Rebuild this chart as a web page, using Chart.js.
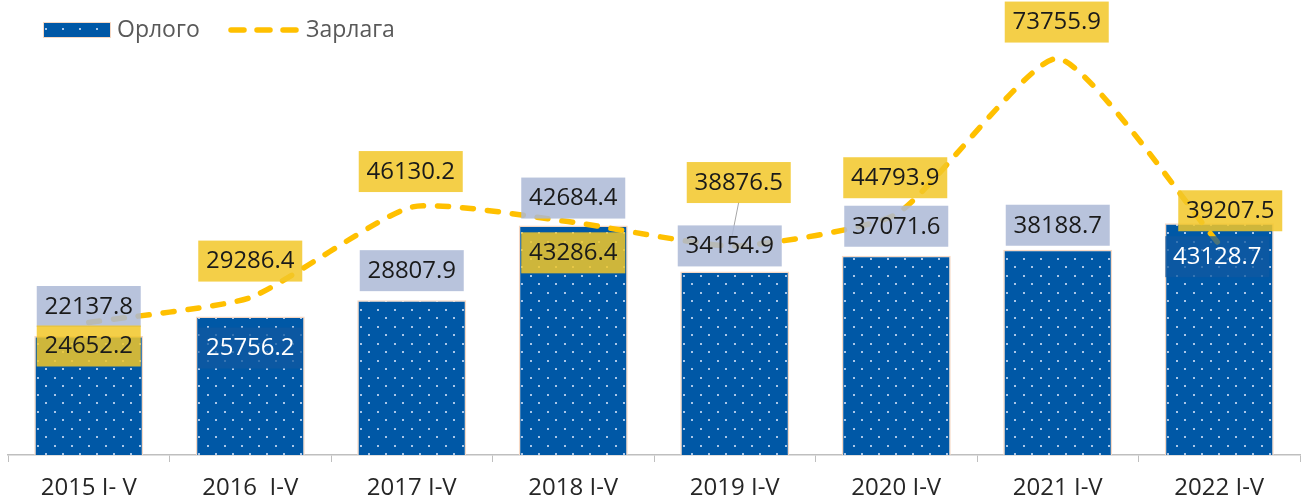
<!DOCTYPE html>
<html>
<head>
<meta charset="utf-8">
<script src="https://cdn.jsdelivr.net/npm/chart.js@4.4.1/dist/chart.umd.min.js"></script>
<style>
    html, body { margin: 0; padding: 0; background: #fff; }
    #wrap { width: 1304px; height: 502px; }
</style>
</head>
<body>
<div id="wrap"><canvas id="myChart"></canvas></div>
<script>
const categories = ['2015 I- V', '2016  I-V', '2017 I-V', '2018 I-V', '2019 I-V', '2020 I-V', '2021 I-V', '2022 I-V'];
const orlogo = [22137.8, 25756.2, 28807.9, 42684.4, 34154.9, 37071.6, 38188.7, 43128.7];
const zarlaga = [24652.2, 29286.4, 46130.2, 43286.4, 38876.5, 44793.9, 73755.9, 39207.5];

// label box offsets from the point (px)
const orlogoLabelOffset = [[0, -30], [0, 31], [0, -30], [0, -28], [-5, -26], [0, -30], [0, -25], [-2, 33]];
const zarlagaLabelOffset = [[0, 23], [0, -37], [-1, -36], [0, 30], [4, -64], [-1, -37], [-1, -37], [11, -34]];
const orlogoInside = [false, true, false, false, false, false, false, true];

const BLUE = '#0058a6';
const YELLOW = '#ffc000';

function makeDots() {
    let c = document.createElement('canvas');
    c.width = 17;
    c.height = 17;
    let x = c.getContext('2d');
    x.fillStyle = BLUE;
    x.fillRect(0, 0, 17, 17);
    x.fillStyle = '#a9c6e8';
    x.fillRect(3, 3, 2, 2);
    x.fillRect(11, 11, 2, 2);
    return x.createPattern(c, 'repeat');
}

const dots = makeDots();

function box(ctx, cx, cy, text, fill, color) {
    ctx.save();
    ctx.fillStyle = fill;
    ctx.fillRect(cx - 52, cy - 20, 104, 41);
    ctx.fillStyle = color;
    ctx.font = '24px "Open Sans"';
    ctx.textAlign = 'center';
    ctx.textBaseline = 'middle';
    ctx.fillText(text, cx, cy + 1);
    ctx.restore();
}

const labelPlugin = {
    id: 'labelBoxes',
    afterDatasetsDraw(chart) {
        let ctx = chart.ctx;
        let bars = chart.getDatasetMeta(0).data;
        let pts = chart.getDatasetMeta(1).data;

        // leader line for 2019
        ctx.save();
        ctx.strokeStyle = '#a6a6a6';
        ctx.lineWidth = 1;
        ctx.beginPath();
        ctx.moveTo(pts[4].x + zarlagaLabelOffset[4][0], pts[4].y + zarlagaLabelOffset[4][1] + 20);
        ctx.lineTo(bars[4].x + orlogoLabelOffset[4][0], bars[4].y + orlogoLabelOffset[4][1] + 2);
        ctx.stroke();
        ctx.restore();

        bars.forEach((b, i) => {
            let o = orlogoLabelOffset[i];
            if (orlogoInside[i]) {
                box(ctx, b.x + o[0], b.y + o[1], orlogo[i].toFixed(1), 'rgba(16,88,160,0.75)', '#ffffff');
            } else {
                box(ctx, b.x + o[0], b.y + o[1], orlogo[i].toFixed(1), 'rgba(171,185,214,0.85)', '#1a1a1a');
            }
        });
        pts.forEach((p, i) => {
            let o = zarlagaLabelOffset[i];
            box(ctx, p.x + o[0], p.y + o[1], zarlaga[i].toFixed(1), 'rgba(242,199,40,0.85)', '#1a1a1a');
        });
    }
};

const legendPlugin = {
    id: 'ownLegend',
    afterDraw(chart) {
        let ctx = chart.ctx;
        ctx.save();
        ctx.fillStyle = dots;
        ctx.fillRect(44, 23, 66, 14);
        ctx.strokeStyle = '#f6d8c4';
        ctx.lineWidth = 1;
        ctx.strokeRect(43.5, 22.5, 67, 15);

        ctx.strokeStyle = YELLOW;
        ctx.lineWidth = 5.5;
        ctx.lineCap = 'round';
        ctx.setLineDash([13, 13]);
        ctx.beginPath();
        ctx.moveTo(231, 30);
        ctx.lineTo(300, 30);
        ctx.stroke();
        ctx.setLineDash([]);

        ctx.fillStyle = '#595959';
        ctx.font = '23px "Open Sans"';
        ctx.textBaseline = 'middle';
        ctx.fillText('Орлого', 117, 30);
        ctx.fillText('Зарлага', 306, 30);
        ctx.restore();
    }
};

new Chart(document.getElementById('myChart'), {
    data: {
        labels: categories,
        datasets: [{
            type: 'bar',
            label: 'Орлого',
            data: orlogo,
            backgroundColor: dots,
            borderColor: '#f6d8c4',
            borderWidth: 1.5,
            categoryPercentage: 1,
            barPercentage: 0.675,
            order: 1
        }, {
            type: 'line',
            label: 'Зарлага',
            data: zarlaga,
            borderColor: YELLOW,
            borderWidth: 5.5,
            borderDash: [11, 14],
            borderCapStyle: 'round',
            pointRadius: 0,
            tension: 0.18,
            fill: false,
            order: 0
        }]
    },
    options: {
        responsive: true,
        maintainAspectRatio: false,
        animation: false,
        layout: {
            padding: { top: 25, left: 8, right: 4, bottom: 0 }
        },
        plugins: {
            legend: { display: false },
            tooltip: { enabled: false }
        },
        scales: {
            x: {
                afterFit: function (scale) {
                    scale.height = 47;
                },
                grid: {
                    offset: true,
                    drawOnChartArea: false,
                    tickLength: 7,
                    color: '#bfbfbf'
                },
                border: { color: '#bfbfbf', width: 1.5 },
                ticks: {
                    color: '#262626',
                    padding: 14,
                    maxRotation: 0,
                    font: { family: 'Open Sans', size: 24, lineHeight: 1 }
                }
            },
            y: {
                display: false,
                min: 0,
                max: 80000
            }
        }
    },
    plugins: [labelPlugin, legendPlugin]
});
</script>
</body>
</html>
